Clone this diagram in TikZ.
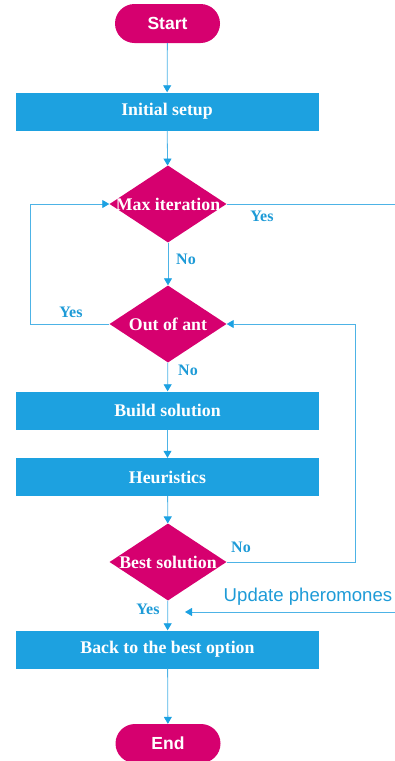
\documentclass[tikz,border=0pt]{standalone}
\usepackage{fontspec}
\setmainfont{Liberation Serif}
\newfontfamily\arialfont{Liberation Sans}
\usetikzlibrary{arrows.meta,shapes.geometric}
\definecolor{mag}{HTML}{D6006F}
\definecolor{boxblue}{HTML}{1DA1E0}
\definecolor{lineblue}{HTML}{4DB3E6}
\definecolor{tipblue}{HTML}{1BA1E2}
\definecolor{lblblue}{HTML}{1E9BD7}
\tikzset{
  x=1pt,y=-1pt,
  term/.style={draw=none,fill=mag,rounded corners=19.5pt,minimum width=105pt,minimum height=39pt,inner sep=0pt,text=white,font=\arialfont\bfseries\fontsize{17.5}{18}\selectfont},
  procbox/.style={draw=none,fill=boxblue,minimum width=303pt,minimum height=38pt,inner sep=0pt,text=white,font=\bfseries\fontsize{17.8}{18}\selectfont},
  dec/.style={diamond,draw=none,fill=mag,minimum width=117pt,minimum height=77pt,inner sep=0pt,text=white,font=\bfseries\fontsize{17.8}{18}\selectfont},
  conn/.style={draw=lineblue,line width=0.8pt},
  arr/.style={conn,-{Triangle[width=8pt,length=7pt,color=tipblue]}},
  lbl/.style={text=lblblue,font=\bfseries\fontsize{16}{17}\selectfont,inner sep=0pt},
}
\begin{document}
\begin{tikzpicture}
\useasboundingbox (0,0) rectangle (395,761);
\node[term] (start) at (167.5,23.5) {Start};
\node[procbox] (init) at (167,111.5) {Initial setup};
\node[dec] (max) at (168,204) {\makebox[0pt]{Max iteration}};
\node[dec] (ant) at (168,324) {\makebox[0pt]{Out of ant}};
\node[procbox] (build) at (167.5,410.5) {Build solution};
\node[procbox] (heur) at (167.5,477) {Heuristics};
\node[dec] (best) at (168,562) {\makebox[0pt]{Best solution}};
\node[procbox] (back) at (167.5,649.5) {Back to the best option};
\node[term] (end) at (168,743.5) {End};

\coordinate (maxout) at (395,204);
\coordinate (updstart) at (395,612);
\coordinate (updend) at (185,612);
\coordinate (lefttop) at (30,204);
\coordinate (leftbot) at (30,324);
\coordinate (righttop) at (355,324);
\coordinate (rightbot) at (355,562);

\draw[arr] (start) -- (init);
\draw[arr] (init) -- (max);
\draw[arr] (max) -- (ant);
\draw[arr] (ant) -- (build);
\draw[arr] (build) -- (heur);
\draw[arr] (heur) -- (best);
\draw[arr] (best) -- (back);
\draw[arr] (back) -- (end);
\draw[conn] (max.east) -- (maxout);
\draw[arr] (ant.west) -- (leftbot) -- (lefttop) -- (max.west);
\draw[arr] (best.east) -- (rightbot) -- (righttop) -- (ant.east);
\draw[arr] (updstart) -- (updend);

\node[lbl] at (262,216) {Yes};
\node[lbl] at (186,259) {No};
\node[lbl] at (71,312) {Yes};
\node[lbl] at (188,370) {No};
\node[lbl] at (241,547) {No};
\node[lbl] at (148,609) {Yes};
\node[text=lblblue,font=\arialfont\fontsize{18.6}{19}\selectfont,inner sep=0pt] at (308,597) {Update pheromones};
\end{tikzpicture}
\end{document}
